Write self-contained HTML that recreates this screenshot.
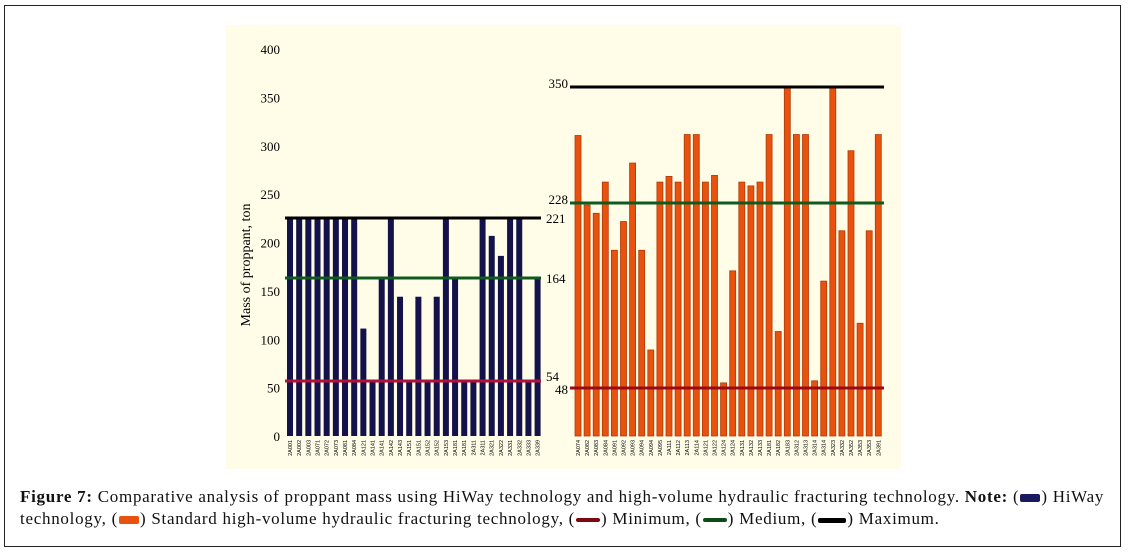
<!DOCTYPE html>
<html><head><meta charset="utf-8"><style>
html,body{margin:0;padding:0;background:#fff;}
body{width:1128px;height:553px;position:relative;overflow:hidden;font-family:"Liberation Serif",serif;}
#frame{position:absolute;left:4px;top:5px;width:1117px;height:542px;border:1px solid #222;box-sizing:border-box;}
#cap{position:absolute;left:20px;top:486px;width:1100px;font-size:17px;letter-spacing:0.72px;line-height:22px;color:#111;white-space:nowrap;}
.sw{display:inline-block;width:20px;height:8px;border-radius:2px;vertical-align:middle;margin:0 1px;}
</style></head><body>
<div id="frame"></div>
<svg id="chart" width="1128" height="553" style="position:absolute;left:0;top:0">
<rect x="226" y="25" width="675" height="444" fill="#fffde8"/>
<text x="0" y="0" transform="translate(250,265) rotate(-90)" text-anchor="middle" font-size="14" font-family="Liberation Serif, serif">Mass of proppant, ton</text>
<g id="g"></g>
</svg>
<div id="cap"><b>Figure 7:</b> Comparative analysis of proppant mass using HiWay technology and high-volume hydraulic fracturing technology. <b>Note:</b> (<span class="sw" style="background:#1a1a5e"></span>) HiWay<br>technology, (<span class="sw" style="background:#e8520e"></span>) Standard high-volume hydraulic fracturing technology, (<span class="sw" style="background:#7a0a10;height:4px;width:24px"></span>) Minimum, (<span class="sw" style="background:#0c4a1a;height:4px;width:24px"></span>) Medium, (<span class="sw" style="background:#000;height:5px;width:28px"></span>) Maximum.</div>
<script>
const yTicks=[0,50,100,150,200,250,300,350,400];
const leftCats=["2A001","2A002","2A003","2A071","2A072","2A073","2A081","2A084","2A121","2A141","2A141","2A142","2A143","2A151","2A151","2A152","2A152","2A153","2A181","2A181","2A311","2A311","2A321","2A322","2A331","2A332","2A333","2A339"];
const leftVals=[221,221,221,221,221,221,221,221,110,54,164,221,144,54,144,54,144,221,164,54,54,221,204,185,221,221,54,164];
const leftRefs=[221,164,54];
const rightCats=["2A074","2A082","2A083","2A084","2A091","2A092","2A093","2A094","2A094","2A095","2A111","2A112","2A113","2A114","2A121","2A122","2A124","2A124","2A131","2A132","2A133","2A181","2A182","2A183","2A312","2A313","2A314","2A314","2A323","2A332","2A352","2A353","2A353","2A391"];
const rightVals=[299,226,218,250,182,210,270,182,85,250,256,250,300,300,250,257,53,162,250,246,250,300,103,350,300,300,55,152,350,201,283,111,201,300];
const rightRefs=[350,228,48];
const refColors=["#000","#0f5a1e","#b0103a"];
const rightRefColors=["#000","#0f5a1e","#9a0a14"];
const NS="http://www.w3.org/2000/svg";
const g=document.getElementById('g');
function pw(v,kv,kp){for(let i=1;i<kv.length;i++){if(v<=kv[i]||i==kv.length-1){const t=(v-kv[i-1])/(kv[i]-kv[i-1]);return kp[i-1]+t*(kp[i]-kp[i-1]);}}}
function yL(v){return pw(v,[0,54,164,221,400],[434,381,278,218,44]);}
function yR(v){return pw(v,[0,48,228,350,400],[436,388,203,87,40]);}
function xL(i){return 287+9.17*i;}
function xR(i){return 575+9.1*i;}
function mk(t,a){const e=document.createElementNS(NS,t);for(const k in a)e.setAttribute(k,a[k]);g.appendChild(e);return e;}
yTicks.forEach(v=>{const t=mk('text',{x:280,y:436-0.9675*v+5,'text-anchor':'end','font-size':13});t.textContent=v;

});
leftVals.forEach((v,i)=>{const r=mk('rect',{x:xL(i),y:yL(v),width:6,height:yL(0)-yL(v)+2,fill:'#14124a'});


const t=mk('text',{x:0,y:0,transform:`translate(${xL(i)+5},${440}) rotate(-90)`,'text-anchor':'end','font-size':5.5,'font-family':'Liberation Sans, sans-serif'});t.textContent=leftCats[i];

});
rightVals.forEach((v,i)=>{const r=mk('rect',{x:xR(i),y:yR(v),width:6,height:yR(0)-yR(v),fill:'#e8520e',stroke:'#b03a06','stroke-width':0.8});


const t=mk('text',{x:0,y:0,transform:`translate(${xR(i)+5},${440}) rotate(-90)`,'text-anchor':'end','font-size':5.5,'font-family':'Liberation Sans, sans-serif'});t.textContent=rightCats[i];

});
leftRefs.forEach((v,i)=>{const l=mk('line',{x1:285,x2:541,y1:yL(v),y2:yL(v),stroke:refColors[i],'stroke-width':3});


const t=mk('text',{x:546,y:yL(v)+(i==2?0:5),'font-size':13});t.textContent=v;

});
rightRefs.forEach((v,i)=>{const l=mk('line',{x1:570,x2:884,y1:yR(v),y2:yR(v),stroke:rightRefColors[i],'stroke-width':3});


const t=mk('text',{x:568,y:yR(v)+(i==2?6:1),'text-anchor':'end','font-size':13});t.textContent=v;

});
</script>
</body></html>
